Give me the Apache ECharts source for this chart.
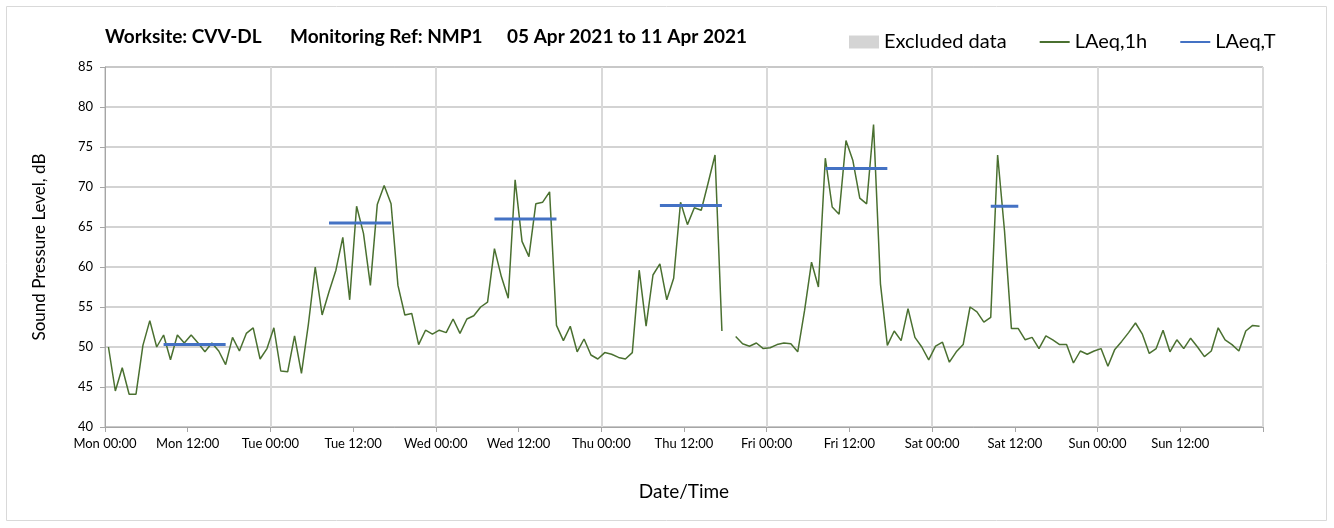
<!DOCTYPE html>
<html>
<head>
<meta charset="utf-8">
<script src="https://cdn.jsdelivr.net/npm/echarts@6/dist/echarts.min.js"></script>
<style>
  html, body { margin: 0; padding: 0; background: #fff; }
  #chart { width: 1334px; height: 528px; }
</style>
</head>
<body>
<div id="chart"></div>
<script>
// hourly LAeq,1h values, one array per day (00:00 .. 23:00)
const mon = [50.0, 44.5, 47.4, 44.1, 44.1, 50.2, 53.3, 50.0, 51.5, 48.4, 51.5, 50.5,
             51.5, 50.5, 49.4, 50.5, 49.5, 47.8, 51.2, 49.5, 51.7, 52.4, 48.5, 49.8];
const tue = [52.4, 47.0, 46.9, 51.4, 46.7, 52.8, 60.0, 54.0, 56.9, 59.6, 63.7, 55.9,
             67.6, 64.2, 57.7, 67.8, 70.2, 67.9, 57.7, 54.0, 54.2, 50.3, 52.1, 51.6];
const wed = [52.1, 51.8, 53.5, 51.7, 53.5, 53.9, 55.0, 55.6, 62.3, 58.8, 56.1, 70.9,
             63.2, 61.3, 67.9, 68.1, 69.4, 52.7, 50.8, 52.6, 49.4, 51.0, 49.0, 48.5];
const thu = [49.3, 49.1, 48.7, 48.5, 49.3, 59.6, 52.6, 59.0, 60.4, 55.9, 58.6, 68.1,
             65.3, 67.4, 67.1, 70.5, 74.0, 52.0, null, 51.3, 50.4, 50.1, 50.5, 49.8];
const fri = [49.9, 50.3, 50.5, 50.4, 49.4, 54.6, 60.6, 57.5, 73.6, 67.5, 66.6, 75.8,
             73.3, 68.6, 67.9, 77.8, 57.9, 50.2, 52.0, 50.8, 54.8, 51.2, 50.0, 48.4];
const sat = [50.1, 50.6, 48.1, 49.4, 50.3, 55.0, 54.4, 53.1, 53.7, 74.0, 64.5, 52.3,
             52.3, 50.9, 51.2, 49.8, 51.4, 50.9, 50.3, 50.3, 48.0, 49.5, 49.1, 49.5];
const sun = [49.8, 47.6, 49.7, 50.7, 51.8, 53.0, 51.6, 49.2, 49.8, 52.1, 49.4, 50.9,
             49.8, 51.1, 50.0, 48.8, 49.5, 52.4, 50.9, 50.3, 49.5, 52.0, 52.7, 52.6];

// LAeq,T for each working period (08:00 to the end hour)
const laeqT = [50.3, 65.5, 66.0, 67.7, 72.3, 67.6, null];
const periodStart = 8;
const periodEnd = [17, 17, 17, 17, 17, 12, null];

const tickLabels = ["Mon 00:00", "Mon 12:00", "Tue 00:00", "Tue 12:00", "Wed 00:00",
  "Wed 12:00", "Thu 00:00", "Thu 12:00", "Fri 00:00", "Fri 12:00", "Sat 00:00",
  "Sat 12:00", "Sun 00:00", "Sun 12:00"];

const days = [mon, tue, wed, thu, fri, sat, sun];
const hourly = [].concat(...days);
// each hourly value sits in the middle of its hour
const lineData = hourly.map((v, i) => [i + 0.5, v == null ? "-" : v]);
const tData = hourly.map((v, i) => {
  const d = Math.floor(i / 24), h = i % 24;
  const on = laeqT[d] != null && h >= periodStart && h <= periodEnd[d];
  return [i + 0.5, on ? laeqT[d] : "-"];
});

const font = "Lato";
const titleStyle = { fontFamily: font, fontWeight: "bold", fontSize: 19, color: "#000" };
const chart = echarts.init(document.getElementById("chart"));
chart.setOption({
  animation: false,
  textStyle: { fontFamily: font, color: "#000" },
  title: [
    { text: "Worksite: CVV-DL", left: 105, top: 27, padding: 0, textStyle: titleStyle },
    { text: "Monitoring Ref: NMP1", left: 290, top: 27, padding: 0, textStyle: titleStyle },
    { text: "05 Apr 2021 to 11 Apr 2021", left: 507, top: 27, padding: 0, textStyle: titleStyle }
  ],
  legend: {
    left: 849,
    top: 32,
    padding: 0,
    itemWidth: 30,
    itemHeight: 13,
    itemGap: 32,
    textStyle: { fontFamily: font, fontSize: 20, color: "#000" },
    data: [
      { name: "Excluded data", icon: "rect" },
      { name: "LAeq,1h", itemStyle: { opacity: 0 } },
      { name: "LAeq,T", itemStyle: { opacity: 0 } }
    ]
  },
  grid: {
    left: 105,
    right: 71,
    top: 67,
    bottom: 101,
    show: true,
    borderColor: "#a6a6a6",
    borderWidth: 1
  },
  xAxis: [
    {
      type: "value",
      min: 0,
      max: 168,
      interval: 12,
      name: "Date/Time",
      nameLocation: "middle",
      nameGap: 55,
      nameTextStyle: { fontFamily: font, fontSize: 19, color: "#000" },
      axisLine: { lineStyle: { color: "#a6a6a6", width: 1 } },
      axisTick: { show: true, length: 5, lineStyle: { color: "#a6a6a6" } },
      axisLabel: {
        fontFamily: font,
        fontSize: 13,
        color: "#000",
        margin: 10,
        formatter: v => tickLabels[v / 12] || ""
      },
      splitLine: { show: false }
    },
    {
      // day separators only
      type: "value",
      min: 0,
      max: 168,
      interval: 24,
      position: "bottom",
      axisLine: { show: false },
      axisTick: { show: false },
      axisLabel: { show: false },
      splitLine: { show: true, lineStyle: { color: "#d9d9d9", width: 2 } }
    }
  ],
  yAxis: {
    type: "value",
    min: 40,
    max: 85,
    interval: 5,
    name: "Sound Pressure Level, dB",
    nameLocation: "middle",
    nameGap: 57,
    nameTextStyle: { fontFamily: font, fontSize: 17, color: "#000" },
    axisLine: { show: true, lineStyle: { color: "#a6a6a6", width: 1 } },
    axisTick: { show: true, length: 5, lineStyle: { color: "#a6a6a6" } },
    axisLabel: { fontFamily: font, fontSize: 13, color: "#000", margin: 12 },
    splitLine: { lineStyle: { color: "#c4c4c4", width: 1.5 } }
  },
  series: [
    {
      name: "Excluded data",
      type: "bar",
      data: [],
      itemStyle: { color: "#d4d4d4" }
    },
    {
      name: "LAeq,1h",
      type: "line",
      data: lineData,
      symbol: "none",
      connectNulls: false,
      color: "#4a7030",
      lineStyle: { color: "#4a7030", width: 1.5 },
      z: 3
    },
    {
      name: "LAeq,T",
      type: "line",
      data: tData,
      symbol: "none",
      connectNulls: false,
      color: "#4472c4",
      lineStyle: { color: "#4472c4", width: 3 },
      z: 4
    }
  ],
  graphic: [
    {
      type: "rect",
      shape: { x: 6.5, y: 6.5, width: 1320, height: 514 },
      style: { fill: null, stroke: "#d9d9d9", lineWidth: 1 },
      silent: true
    }
  ]
});
</script>
</body>
</html>
